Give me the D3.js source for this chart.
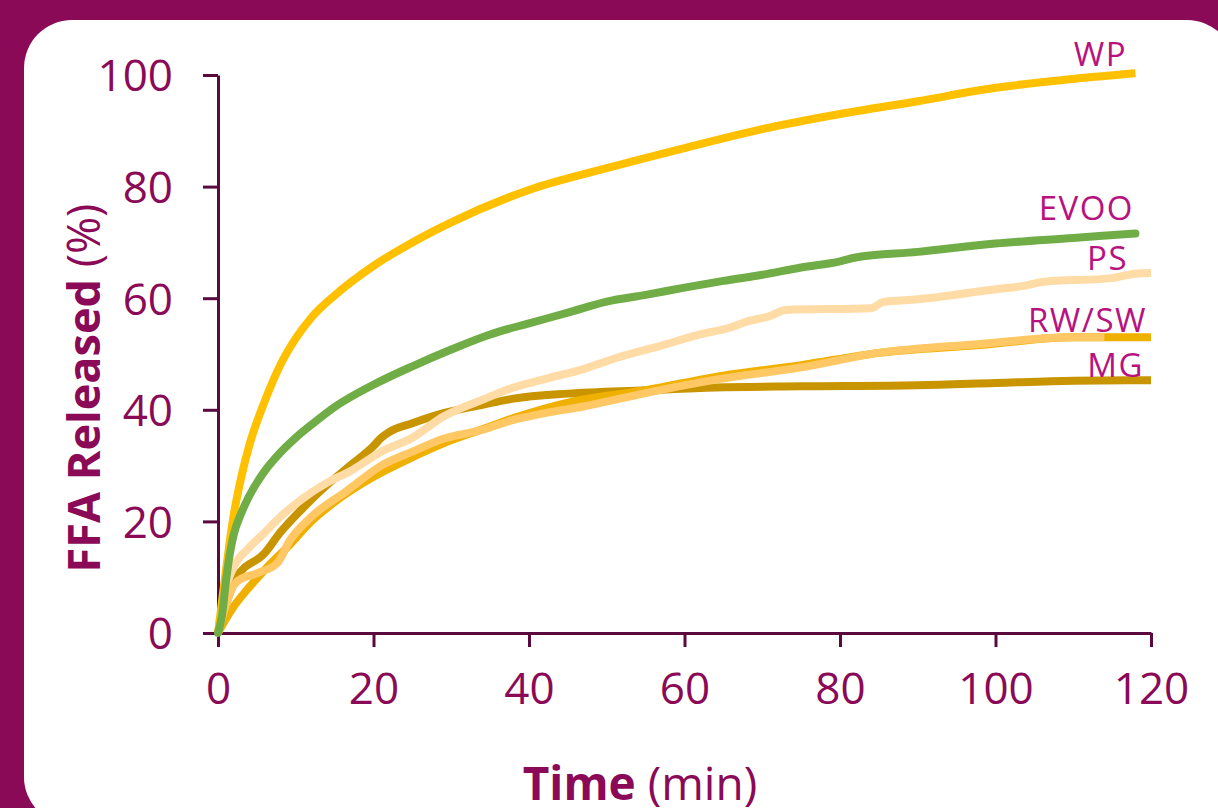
<!DOCTYPE html>
<html lang="en">
<head>
  <meta charset="UTF-8">
  <title>FFA Released</title>
  <style>
    html, body { margin: 0; padding: 0; background: #8b0a57; }
    svg { display: block; }
    text { font-family: "Open Sans", "Noto Sans", sans-serif; }
  </style>
</head>
<body>
  <svg id="chart" width="1218" height="808"></svg>
  <script src="https://d3js.org/d3.v7.min.js"></script>
  <script>
    // values: [time (min), FFA released (%)]
    var wp = [[0,0],[1,11],[2,21],[3,28],[4,33.5],[6,41.5],[8,48],[10,52.8],[12,56.5],[15,60.5],[20,65.8],
              [25,70],[30,73.6],[40,79.4],[50,83.3],[60,86.9],[70,90.3],[80,93],[90,95.3],[100,97.7],[110,99.3],[118,100.3]];
    var evoo = [[0,0],[0.5,3],[1,9],[1.5,14],[2,17.5],[3,21.5],[4,24.5],[6,29],[8,32.3],[10,35],[12,37.3],
                [15,40.5],[20,44.5],[25,47.8],[30,50.8],[35,53.5],[40,55.5],[45,57.4],[50,59.4],[55,60.6],
                [60,61.9],[65,63.1],[70,64.2],[75,65.5],[80,66.6],[82,67.3],[90,68.3],[100,69.8],[110,70.8],[118,71.6]];
    var ps = [[0,0],[1,8],[2,11.8],[4,15.3],[6,18],[8,20.8],[11,24.2],[14,26.9],[17,29],[21,32.5],[25,35],
              [29,38.8],[34,41.8],[38,44],[42,45.5],[47,47.3],[51,49.2],[57,51.5],[62,53.5],[66,54.8],[68,55.8],
              [71,56.8],[73,57.9],[84,58.2],[85.5,59.3],[90,59.8],[100,61.6],[104,62.3],[106,62.9],[115,63.6],
              [118,64.4],[120,64.5]];
    var rw = [[0,0],[1,2.5],[2,4.7],[3.7,7.7],[6,11.3],[9,15.5],[12,20],[16,24.5],[20,28],[25,31.5],[29,34],
              [34,36.5],[38,38.5],[46,41.6],[55,43.5],[64,45.9],[75,48],[85,50.2],[98,51.6],[110,53],[120,53]];
    var sw = [[0,0],[0.7,3.6],[2,8.5],[2.5,9.3],[5,10.7],[7.6,12.5],[9.3,16.7],[12,20.8],[16.6,25.5],[21,30],
              [25,32.5],[29,34.8],[34,36.4],[38,38.2],[42,39.4],[47,40.6],[55,43],[64,45.4],[75,47.6],[85,50.2],
              [98,51.8],[110,53],[114,53]];
    var mg = [[0,0],[1,5],[2.4,10],[6,14.3],[8,18],[11,22.5],[14,26.5],[17,30],[20,33.5],[21,35],[22,36],
              [25,37.6],[29,39.4],[34,40.9],[38,42],[45,42.9],[55,43.5],[64,44],[75,44.2],[90,44.4],[100,44.8],
              [110,45.2],[120,45.3]];

    var xTicks = [0, 20, 40, 60, 80, 100, 120];
    var yTicks = [0, 20, 40, 60, 80, 100];

    var series = [
      { name: "MG",   data: mg,   color: "#c89500" },
      { name: "PS",   data: ps,   color: "#ffdba6" },
      { name: "RW",   data: rw,   color: "#efb000" },
      { name: "SW",   data: sw,   color: "#ffc864" },
      { name: "WP",   data: wp,   color: "#ffc000" },
      { name: "EVOO", data: evoo, color: "#70ad47" }
    ];

    // end labels
    var labels = [
      { text: "WP",    x: 1127, y: 66 },
      { text: "EVOO",  x: 1134, y: 220 },
      { text: "PS",    x: 1128, y: 270 },
      { text: "RW/SW", x: 1147, y: 332 },
      { text: "MG",    x: 1144, y: 377 }
    ];

    var svg = d3.select("#chart");
    var axisColor = "#5a0a3e", textColor = "#8b0a57";

    // white rounded panel
    svg.append("rect")
      .attr("x", 24).attr("y", 20)
      .attr("width", 1211).attr("height", 805)
      .attr("rx", 48).attr("ry", 48)
      .attr("fill", "#fff");

    var x = d3.scaleLinear().domain([0, 120]).range([218, 1151]);
    var y = d3.scaleLinear().domain([0, 100]).range([633, 75]);

    var xAxis = svg.append("g")
      .attr("transform", "translate(0,633)")
      .call(d3.axisBottom(x).tickValues(xTicks).tickSize(14).tickSizeOuter(0).tickPadding(26));
    var yAxis = svg.append("g")
      .attr("transform", "translate(218,0)")
      .call(d3.axisLeft(y).tickValues(yTicks).tickSize(15).tickSizeOuter(0).tickPadding(30));

    [xAxis, yAxis].forEach(function(g) {
      g.select(".domain").attr("stroke", axisColor).attr("stroke-width", 3);
      g.selectAll(".tick line").attr("stroke", axisColor).attr("stroke-width", 3);
      g.selectAll(".tick text")
        .attr("fill", textColor)
        .style("font-size", "44px")
        .style("font-family", "'Open Sans', 'Noto Sans', sans-serif");
    });
    xAxis.selectAll(".tick text").attr("dy", "0.71em");
    yAxis.selectAll(".tick text").attr("dy", "0.36em");

    var line = d3.line()
      .x(d => x(d[0]))
      .y(d => y(d[1]))
      .curve(d3.curveMonotoneX);

    svg.append("g").selectAll("path")
      .data(series)
      .enter()
      .append("path")
      .attr("d", d => line(d.data))
      .attr("fill", "none")
      .attr("stroke", d => d.color)
      .attr("stroke-width", 8)
      .attr("stroke-linejoin", "round")
      .attr("stroke-linecap", d => d.name == "EVOO" ? "round" : "butt");

    svg.append("g").selectAll("text")
      .data(labels)
      .enter()
      .append("text")
      .attr("x", d => d.x)
      .attr("y", d => d.y)
      .attr("text-anchor", "end")
      .attr("fill", "#b8127f")
      .style("font-size", "33px")
      .style("letter-spacing", "1.5px")
      .text(d => d.text);

    // axis titles
    var yt = svg.append("text")
      .attr("transform", "translate(100,388) rotate(-90)")
      .attr("text-anchor", "middle")
      .attr("fill", textColor)
      .style("font-size", "45px");
    yt.append("tspan").style("font-weight", "bold").text("FFA Released ");
    yt.append("tspan").text("(%)");

    var xt = svg.append("text")
      .attr("x", 640).attr("y", 800)
      .attr("text-anchor", "middle")
      .attr("fill", textColor)
      .style("font-size", "46px");
    xt.append("tspan").style("font-weight", "bold").text("Time ");
    xt.append("tspan").text("(min)");
  </script>
</body>
</html>
